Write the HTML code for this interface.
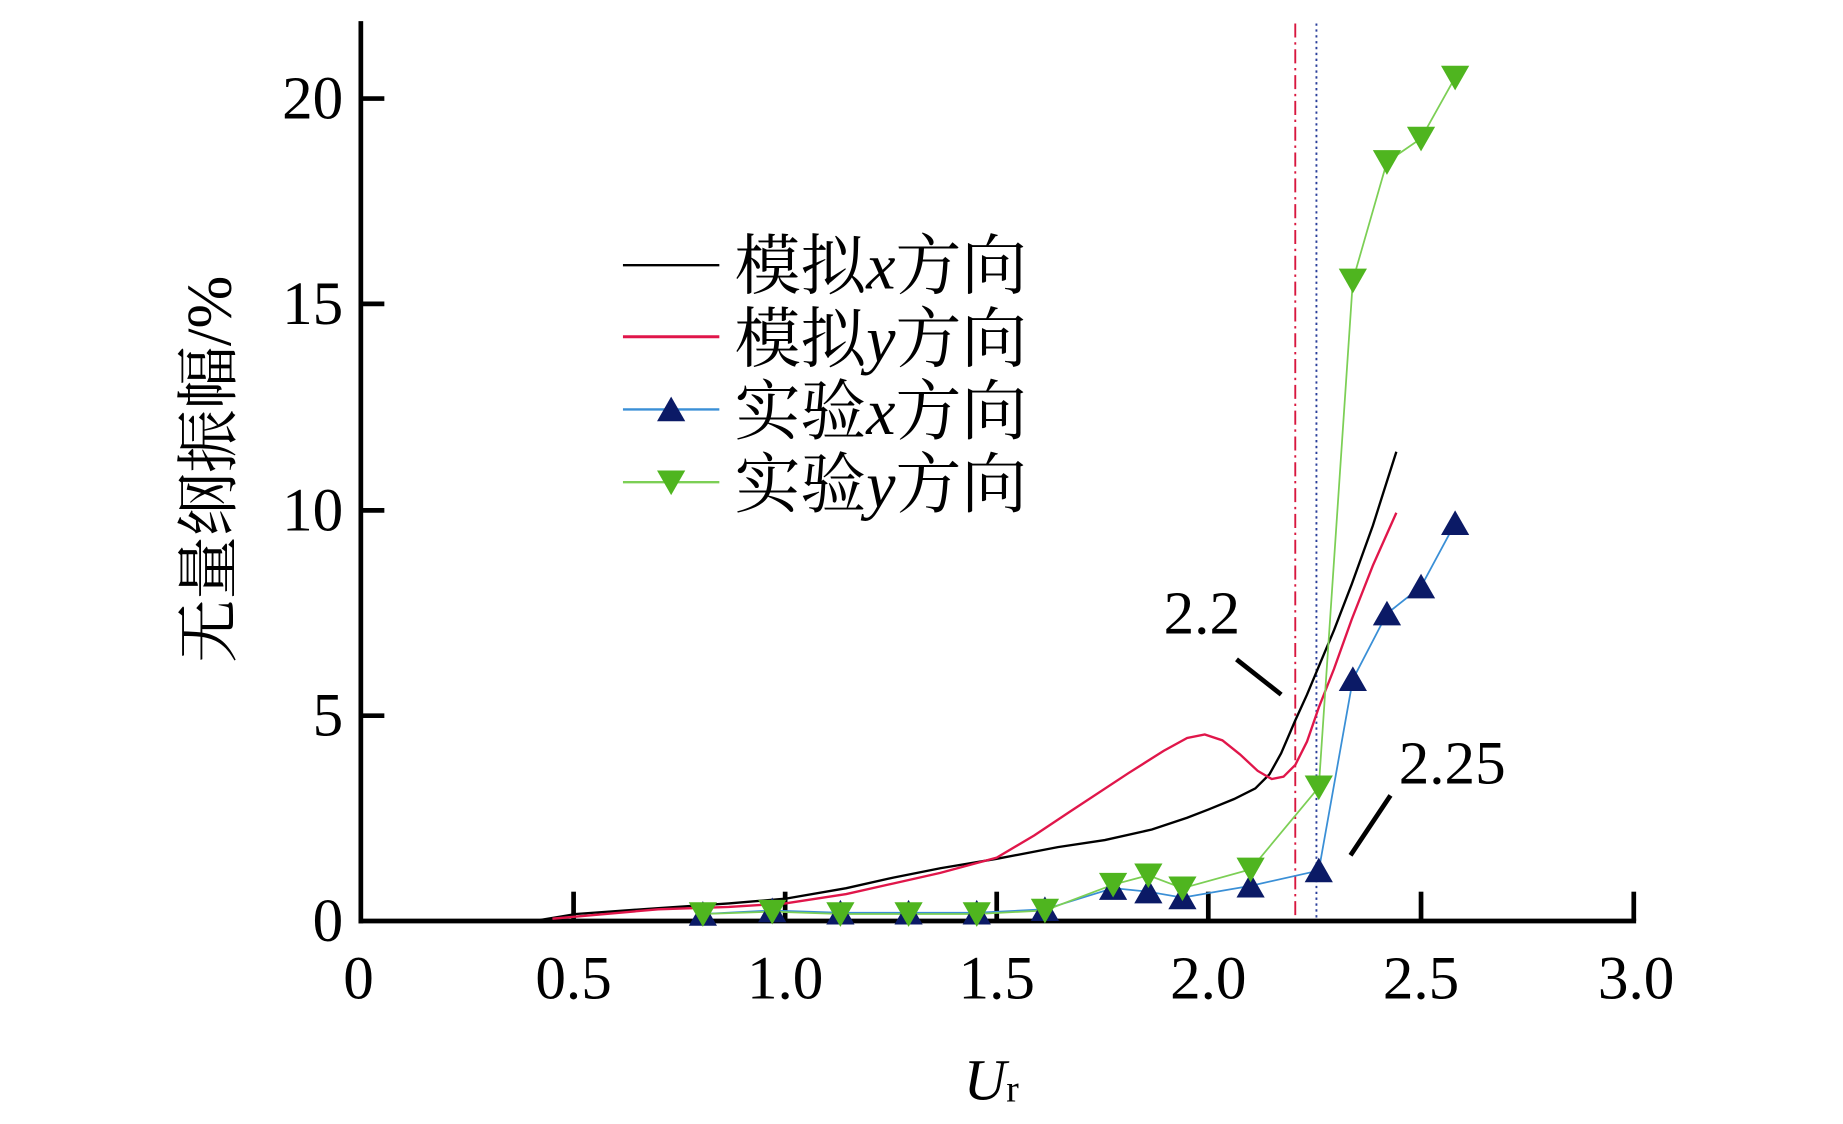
<!DOCTYPE html>
<html><head><meta charset="utf-8"><style>
html,body{margin:0;padding:0;background:#fff;}
svg{display:block;}
text{font-family:"Liberation Serif","Noto Serif CJK SC",serif;fill:#000;}
</style></head><body>
<svg width="1843" height="1124" viewBox="0 0 1568 958" preserveAspectRatio="none" xmlns="http://www.w3.org/2000/svg">
<rect width="1568" height="958" fill="#fff"/>
<line x1="1102" y1="20" x2="1102" y2="785" stroke="#d8173f" stroke-width="1.6" stroke-dasharray="12,4,2,4"/>
<line x1="1120" y1="20" x2="1120" y2="785" stroke="#2a3f9a" stroke-width="1.6" stroke-dasharray="2,3"/>
<g stroke="#000" stroke-width="4" fill="none">
<line x1="307" y1="18" x2="307" y2="787"/>
<line x1="305" y1="785" x2="1392" y2="785"/>
<line x1="488" y1="785" x2="488" y2="760"/>
<line x1="668" y1="785" x2="668" y2="760"/>
<line x1="848" y1="785" x2="848" y2="760"/>
<line x1="1028" y1="785" x2="1028" y2="760"/>
<line x1="1209" y1="785" x2="1209" y2="760"/>
<line x1="1390" y1="785" x2="1390" y2="760"/>
<line x1="307" y1="610" x2="327" y2="610"/>
<line x1="307" y1="435" x2="327" y2="435"/>
<line x1="307" y1="259" x2="327" y2="259"/>
<line x1="307" y1="84" x2="327" y2="84"/>
</g>
<g font-size="52" text-anchor="end">
<text x="292" y="802">0</text>
<text x="292" y="627">5</text>
<text x="292" y="452">10</text>
<text x="292" y="276">15</text>
<text x="292" y="101">20</text>
</g>
<g font-size="52" text-anchor="middle">
<text x="305" y="851">0</text>
<text x="488" y="851">0.5</text>
<text x="668" y="851">1.0</text>
<text x="848" y="851">1.5</text>
<text x="1028" y="851">2.0</text>
<text x="1209" y="851">2.5</text>
<text x="1392" y="851">3.0</text>
</g>
<text x="820" y="937" font-size="50" font-style="italic">U<tspan font-size="32" font-style="normal" dy="2">r</tspan></text>
<text transform="translate(196,400) rotate(-90)" font-size="54" text-anchor="middle">无量纲振幅/%</text>
<polyline fill="none" stroke="#000" stroke-width="2" points="460,784 490,779 560,774 620,770 668,766 720,757 760,748 800,740 848,732 900,722 940,716 980,707 1010,697 1028,690 1050,681 1068,672 1080,660 1090,642 1102,614 1112,592 1122,568 1135,537 1150,498 1168,448 1188,385"/>
<polyline fill="none" stroke="#e0164a" stroke-width="2" points="470,783 560,775 620,773 668,770 720,762 760,753 800,744 848,731 880,712 910,692 960,659 990,640 1010,629 1025,626 1040,631 1055,643 1070,657 1082,664 1092,662 1102,652 1112,632 1122,603 1135,570 1150,528 1168,482 1188,437"/>
<polyline fill="none" stroke="#3a8fd6" stroke-width="1.5" points="598,779 657,776 715,778 773,778 831,778 889,775 947,757 977,760 1006,765 1064,755 1122,742 1151,579 1180,523 1209,500 1238,446"/>
<polyline fill="none" stroke="#7ccf55" stroke-width="1.5" points="598,779 657,777 715,779 773,779 831,779 889,776 947,754 977,746 1006,757 1064,741 1122,671 1151,239 1180,138 1209,118 1238,66"/>
<g fill="#0b1a66">
<path d="M598,768 l-12,21 h24z"/><path d="M657,765 l-12,21 h24z"/><path d="M715,767 l-12,21 h24z"/><path d="M773,767 l-12,21 h24z"/><path d="M831,767 l-12,21 h24z"/><path d="M889,764 l-12,21 h24z"/><path d="M947,746 l-12,21 h24z"/><path d="M977,749 l-12,21 h24z"/><path d="M1006,754 l-12,21 h24z"/><path d="M1064,744 l-12,21 h24z"/><path d="M1122,731 l-12,21 h24z"/><path d="M1151,568 l-12,21 h24z"/><path d="M1180,512 l-12,21 h24z"/><path d="M1209,489 l-12,21 h24z"/><path d="M1238,435 l-12,21 h24z"/>
</g>
<g fill="#4fb51f">
<path d="M598,790 l-12,-21 h24z"/><path d="M657,788 l-12,-21 h24z"/><path d="M715,790 l-12,-21 h24z"/><path d="M773,790 l-12,-21 h24z"/><path d="M831,790 l-12,-21 h24z"/><path d="M889,787 l-12,-21 h24z"/><path d="M947,765 l-12,-21 h24z"/><path d="M977,757 l-12,-21 h24z"/><path d="M1006,768 l-12,-21 h24z"/><path d="M1064,752 l-12,-21 h24z"/><path d="M1122,682 l-12,-21 h24z"/><path d="M1151,250 l-12,-21 h24z"/><path d="M1180,149 l-12,-21 h24z"/><path d="M1209,129 l-12,-21 h24z"/><path d="M1238,77 l-12,-21 h24z"/>
</g>
<text x="990" y="540" font-size="52">2.2</text>
<line x1="1052" y1="562" x2="1090" y2="592" stroke="#000" stroke-width="4"/>
<text x="1190" y="668" font-size="52">2.25</text>
<line x1="1183" y1="678" x2="1149" y2="729" stroke="#000" stroke-width="4"/>
<line x1="530" y1="226" x2="612" y2="226" stroke="#000" stroke-width="2"/>
<line x1="530" y1="287" x2="612" y2="287" stroke="#e0164a" stroke-width="2.5"/>
<line x1="530" y1="349" x2="612" y2="349" stroke="#3a8fd6" stroke-width="2"/>
<path d="M571,338 l-12,21 h24z" fill="#0b1a66"/>
<line x1="530" y1="411" x2="612" y2="411" stroke="#7ccf55" stroke-width="2"/>
<path d="M571,422 l-12,-21 h24z" fill="#4fb51f"/>
<g font-size="56">
<text x="625" y="246">模拟<tspan font-style="italic">x</tspan>方向</text>
<text x="625" y="308">模拟<tspan font-style="italic">y</tspan>方向</text>
<text x="625" y="370">实验<tspan font-style="italic">x</tspan>方向</text>
<text x="625" y="432">实验<tspan font-style="italic">y</tspan>方向</text>
</g>
</svg>
</body></html>
